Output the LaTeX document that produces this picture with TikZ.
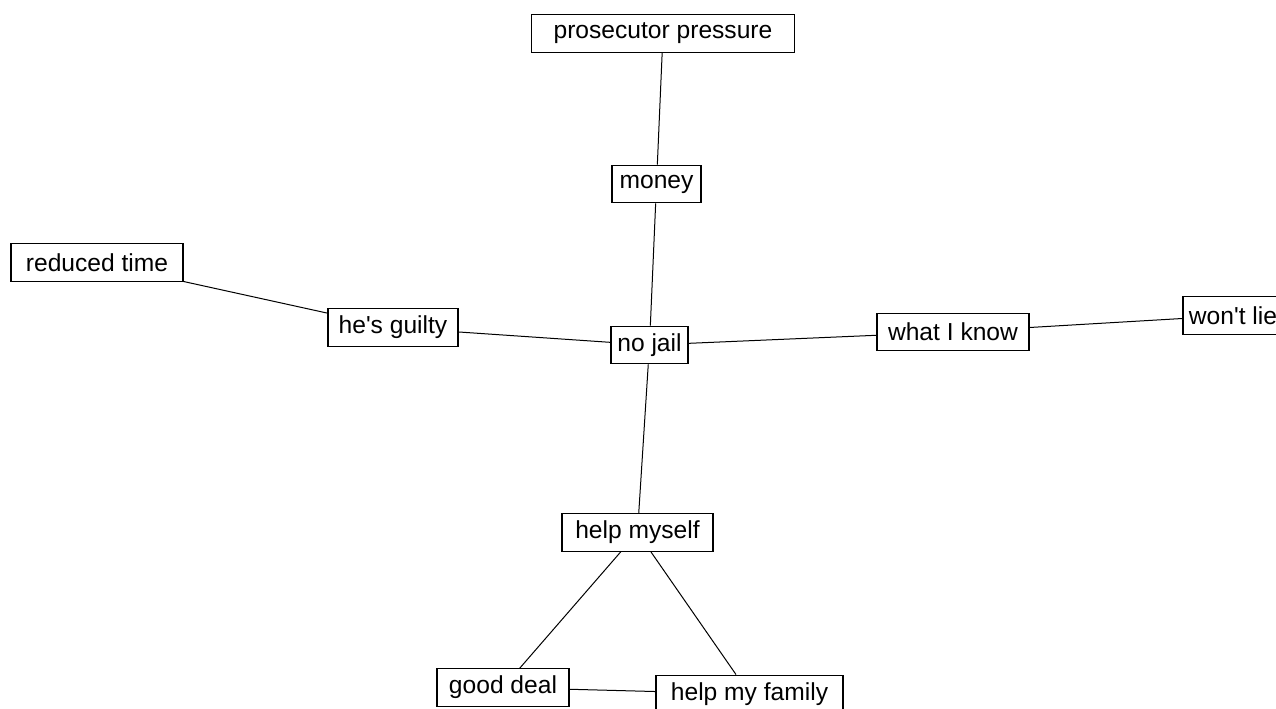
\documentclass[tikz,border=0pt]{standalone}
\usepackage{fontspec}
\setmainfont{Liberation Sans}
\usepackage{tikz}

\begin{document}
\begin{tikzpicture}[x=0.5pt,y=-0.5pt,
  concept/.style={draw,line width=0.6pt,minimum height=18.8pt,inner xsep=2pt,
    font=\fontsize{12.3}{14}\selectfont},
  link/.style={line width=0.5pt}]
\useasboundingbox (0,0) rectangle (1276,708);
\node [concept,minimum width=131.5pt] (pressure) at (663,33.5) {prosecutor pressure};
\node [concept,minimum width=44.5pt] (money) at (656.5,184) {money};
\node [concept,minimum width=86pt] (reduced) at (97,262.5) {reduced time};
\node [concept,minimum width=65pt] (guilty) at (393,327.5) {he\textquotesingle s guilty};
\node [concept,minimum width=38.5pt] (nojail) at (649.5,345) {no jail};
\node [concept,minimum width=76pt] (know) at (953,332) {what I know};
\node [concept,minimum width=50pt] (wontlie) at (1233,315.5) {won\textquotesingle t lie};
\node [concept,minimum width=75.5pt] (myself) at (637.5,532.5) {help myself};
\node [concept,minimum width=66pt] (deal) at (503,687.5) {good deal};
\node [concept,minimum width=93.5pt] (family) at (749.5,694) {help my family};
\draw [link] (pressure) -- (money);
\draw [link] (money) -- (nojail);
\draw [link] (reduced) -- (guilty);
\draw [link] (guilty) -- (nojail);
\draw [link] (nojail) -- (know);
\draw [link] (know) -- (wontlie);
\draw [link] (nojail) -- (myself);
\draw [link] (myself) -- (deal);
\draw [link] (myself) -- (family);
\draw [link] (deal) -- (family);
\end{tikzpicture}
\end{document}
